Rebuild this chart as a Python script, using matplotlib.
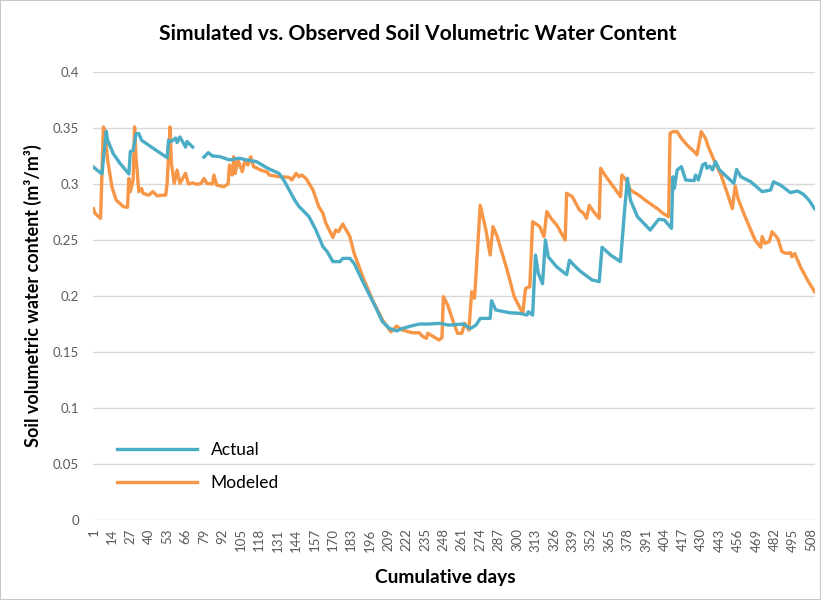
"""Simulated vs. observed soil volumetric water content, Excel-style line chart."""

import matplotlib

matplotlib.use("Agg")
import matplotlib.pyplot as plt  # noqa: E402
import numpy as np  # noqa: E402

# Excel-ish palette
BLUE = "#4bacc6"
ORANGE = "#f79646"
GRID = "#d9d9d9"
TICK = "#595959"

N_DAYS = 510
TICK_DAYS = list(range(1, N_DAYS + 1, 13))

# Actual (observed) - breakpoints; NaN = missing record
actual_days = [
    1, 7, 10, 11, 15, 20, 26, 27, 29, 31, 33, 35, 43, 53, 54, 56, 59, 60, 62, 66,
    67, 71, 75, 79, 82, 85, 90, 97, 104, 109, 116, 124, 132, 136, 143, 146, 153,
    158, 163, 166, 170, 175, 177, 182, 185, 193, 200, 205, 210, 215, 219, 226,
    231, 238, 245, 252, 262, 267, 271, 274, 281, 282, 285, 295, 302, 307, 308,
    311, 313, 315, 318, 320, 322, 328, 335, 337, 340, 345, 353, 358, 360, 366,
    373, 376, 378, 380, 385, 394, 400, 404, 409, 410, 411, 413, 416, 419, 425,
    426, 428, 431, 433, 434, 436, 438, 440, 443, 448, 453, 455, 458, 465, 473,
    479, 481, 486, 493, 498, 502, 506, 510,
]
actual_vals = [
    0.315, 0.309, 0.347, 0.339, 0.327, 0.318, 0.309, 0.329, 0.330, 0.345, 0.345,
    0.339, 0.332, 0.3235, 0.339, 0.338, 0.341, 0.337, 0.342, 0.333, 0.338, 0.333,
    np.nan, 0.324, 0.328, 0.325, 0.3245, 0.3215, 0.323, 0.3215, 0.320, 0.314,
    0.3095, 0.302, 0.2857, 0.280, 0.271, 0.259, 0.244, 0.2396, 0.2307, 0.2307,
    0.2336, 0.2336, 0.229, 0.208, 0.1905, 0.177, 0.171, 0.1688, 0.171, 0.1735,
    0.175, 0.175, 0.1756, 0.174, 0.175, 0.171, 0.174, 0.180, 0.180, 0.1958,
    0.1875, 0.185, 0.1845, 0.183, 0.186, 0.183, 0.2366, 0.2202, 0.211, 0.250,
    0.235, 0.226, 0.219, 0.232, 0.2277, 0.2217, 0.2143, 0.2128, 0.2435, 0.2366,
    0.2307, 0.278, 0.305, 0.2857, 0.2708, 0.2589, 0.2685, 0.2679, 0.2604,
    0.3065, 0.296, 0.3125, 0.3155, 0.3036, 0.303, 0.308, 0.3036, 0.317, 0.3185,
    0.314, 0.316, 0.3125, 0.320, 0.3125, 0.3065, 0.3006, 0.313, 0.3065, 0.302,
    0.2932, 0.2946, 0.302, 0.299, 0.2923, 0.2937, 0.291, 0.2857, 0.278,
]

# Modeled (simulated)
modeled_days = [
    1, 2, 6, 8, 9, 11, 14, 17, 22, 25, 26, 27, 29, 30, 31, 33, 35, 36, 40, 43,
    46, 49, 52, 53, 55, 56, 58, 60, 62, 66, 68, 71, 74, 77, 79, 81, 85, 86, 88,
    93, 96, 97, 99, 100, 101, 103, 106, 108, 110, 112, 114, 119, 124, 125, 132,
    139, 141, 144, 146, 148, 151, 156, 160, 163, 165, 170, 172, 174, 177, 182,
    185, 192, 198, 205, 211, 215, 219, 226, 231, 233, 236, 237, 241, 245, 247,
    248, 251, 255, 258, 261, 263, 266, 268, 270, 274, 278, 281, 283, 286, 293,
    298, 304, 306, 309, 311, 316, 319, 321, 324, 328, 334, 335, 339, 344, 347,
    349, 351, 354, 358, 359, 362, 368, 373, 374, 377, 380, 386, 392, 399, 403,
    407, 408, 410, 413, 416, 420, 425, 427, 430, 433, 435, 439, 444, 448, 452,
    454, 456, 460, 464, 468, 472, 473, 475, 478, 480, 484, 487, 490, 493, 494,
    496, 500, 505, 510,
]
modeled_vals = [
    0.278, 0.274, 0.2693, 0.351, 0.348, 0.3214, 0.2976, 0.2857, 0.2798, 0.2792,
    0.305, 0.2932, 0.3036, 0.351, 0.3244, 0.2932, 0.296, 0.2917, 0.290, 0.2932,
    0.2893, 0.290, 0.290, 0.3006, 0.351, 0.3185, 0.3006, 0.3125, 0.3006, 0.3095,
    0.300, 0.301, 0.2997, 0.3006, 0.305, 0.3006, 0.300, 0.308, 0.299, 0.2976,
    0.300, 0.317, 0.308, 0.3244, 0.3095, 0.3214, 0.311, 0.3214, 0.317, 0.3244,
    0.3155, 0.3125, 0.3104, 0.308, 0.3065, 0.306, 0.3036, 0.3095, 0.3065, 0.308,
    0.305, 0.2946, 0.2798, 0.2738, 0.265, 0.2523, 0.2589, 0.2574, 0.2643, 0.253,
    0.238, 0.2143, 0.1964, 0.1786, 0.168, 0.1732, 0.1696, 0.1672, 0.1672, 0.1643,
    0.1622, 0.1667, 0.1637, 0.1607, 0.1628, 0.1994, 0.192, 0.177, 0.1667, 0.1667,
    0.1756, 0.1696, 0.2039, 0.198, 0.281, 0.259, 0.2366, 0.262, 0.253, 0.2232,
    0.1994, 0.1845, 0.2068, 0.2083, 0.2664, 0.262, 0.253, 0.2753, 0.2693, 0.2634,
    0.250, 0.2917, 0.2887, 0.2768, 0.2738, 0.2693, 0.281, 0.2753, 0.2693, 0.314,
    0.308, 0.2976, 0.2887, 0.308, 0.3036, 0.2946, 0.290, 0.2842, 0.278, 0.2738,
    0.2708, 0.3452, 0.3467, 0.3467, 0.3408, 0.3348, 0.3289, 0.326, 0.3467,
    0.3408, 0.3333, 0.3214, 0.308, 0.2932, 0.278, 0.2982, 0.287, 0.2738, 0.262,
    0.250, 0.2435, 0.253, 0.247, 0.2485, 0.2574, 0.2515, 0.2396, 0.238, 0.2387,
    0.235, 0.238, 0.2262, 0.2143, 0.2039,
]

Y_TICKS = [0, 0.05, 0.1, 0.15, 0.2, 0.25, 0.3, 0.35, 0.4]
Y_LABELS = ["0", "0.05", "0.1", "0.15", "0.2", "0.25", "0.3", "0.35", "0.4"]


def main() -> None:
    plt.rcParams["font.family"] = ["Lato", "DejaVu Sans"]

    fig = plt.figure(figsize=(8.21, 6.0), dpi=100)
    fig.patch.set_facecolor("white")
    fig.patch.set_edgecolor("#c8c8c8")
    fig.patch.set_linewidth(1.2)
    ax = fig.add_axes([0.113, 0.1333, 0.880, 0.7467])

    ax.plot(actual_days, actual_vals, color=BLUE, lw=2.4, label="Actual",
            solid_joinstyle="round", zorder=3)
    ax.plot(modeled_days, modeled_vals, color=ORANGE, lw=2.4, label="Modeled",
            solid_joinstyle="round", zorder=2)

    ax.set_xlim(0.5, N_DAYS + 0.5)
    ax.set_ylim(0, 0.4)
    ax.set_yticks(Y_TICKS)
    ax.set_yticklabels(Y_LABELS)
    ax.set_xticks(TICK_DAYS)
    ax.set_xticklabels([str(d) for d in TICK_DAYS], rotation=90)
    ax.tick_params(axis="both", length=0, labelsize=9.5, labelcolor=TICK)
    ax.tick_params(axis="y", pad=10)
    ax.tick_params(axis="x", pad=6)

    ax.grid(axis="y", color=GRID, lw=1.0)
    ax.set_axisbelow(True)
    for s in ax.spines.values():
        s.set_visible(False)

    fig.text(0.509, 0.943, "Simulated vs. Observed Soil Volumetric Water Content",
             ha="center", va="center", fontsize=15.2, fontweight="bold", color="black")
    fig.text(0.040, 0.508, "Soil volumetric water content (m³/m³)",
             rotation=90, ha="center", va="center", fontsize=13,
             fontweight="bold", color="black")
    fig.text(0.542, 0.037, "Cumulative days", ha="center", va="center",
             fontsize=13.8, fontweight="bold", color="black")

    ax.legend(loc="lower left", bbox_to_anchor=(0.012, 0.030), frameon=False,
              fontsize=12.5, handlelength=4.6, handletextpad=0.8,
              labelspacing=1.0)

    fig.savefig("out.png", facecolor=fig.get_facecolor(),
                edgecolor=fig.get_edgecolor())


if __name__ == "__main__":
    main()
